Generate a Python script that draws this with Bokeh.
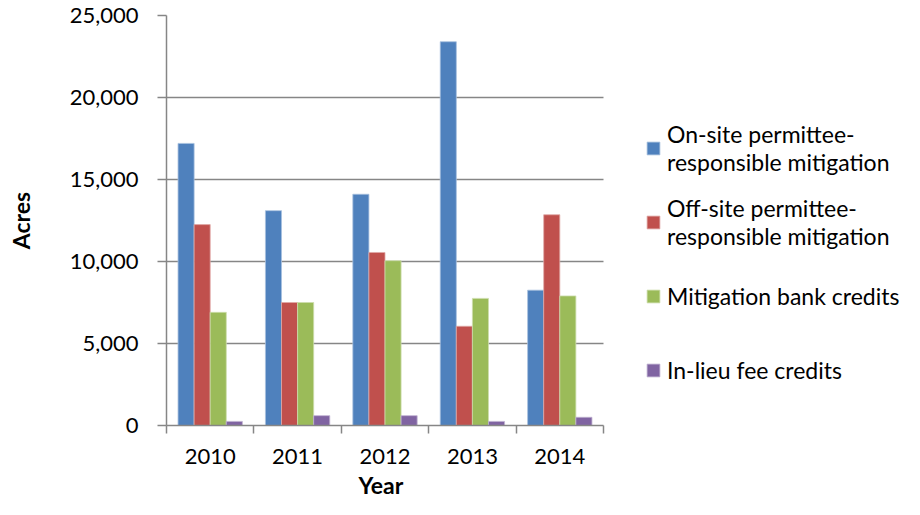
from bokeh.plotting import figure
from bokeh.models import (ColumnDataSource, FixedTicker, NumeralTickFormatter, Legend, LegendItem, Range1d, Title)
from bokeh.transform import dodge
from bokeh.embed import file_html
from bokeh.resources import INLINE

years = [2010, 2011, 2012, 2013, 2014]
year_labels = ["2010", "2011", "2012", "2013", "2014"]
onsite = [17200, 13100, 14100, 23400, 8250]
offsite = [12250, 7500, 10550, 6050, 12850]
bank = [6900, 7500, 10050, 7750, 7900]
ilf = [250, 600, 600, 250, 500]

series_names = ["On-site permittee-\nresponsible mitigation",
                "Off-site permittee-\nresponsible mitigation",
                "Mitigation bank credits",
                "In-lieu fee credits"]
colors = ["#4F81BD", "#C0504D", "#9BBB59", "#8064A2"]
edges = ["#A7C0DE", "#E0A8A6", "#CDDDAC", "#BFB1D0"]

src = ColumnDataSource(dict(year=years, onsite=onsite, offsite=offsite, bank=bank, ilf=ilf))

FONT = "Lato"
GRAY = "#868686"
FS = "22px"

# plotting area: bars occupy 437px, the rest of the frame hosts the legend
BAR_AREA = 437
FRAME_W = 738
x0 = years[0] - 0.5
x_bar_end = years[-1] + 0.5
x1 = x0 + (x_bar_end - x0) * FRAME_W / BAR_AREA

p = figure(frame_width=FRAME_W, frame_height=410, output_backend="svg", toolbar_location=None,
           x_range=Range1d(x0, x1), y_range=Range1d(0, 25000),
           min_border_left=166, min_border_right=0, min_border_top=15, min_border_bottom=0)
p.outline_line_color = None
p.background_fill_color = "white"
p.border_fill_color = "white"

w = 0.184
offsets = [-1.5 * w, -0.5 * w, 0.5 * w, 1.5 * w]
cols = ["onsite", "offsite", "bank", "ilf"]
renderers = []
for c, off, col, ec in zip(cols, offsets, colors, edges):
    r = p.vbar(x=dodge("year", off), top=c, width=w, source=src,
               fill_color=col, line_color=ec, line_width=0.8)
    renderers.append(r)

# y axis
p.yaxis.ticker = FixedTicker(ticks=[0, 5000, 10000, 15000, 20000, 25000])
p.yaxis.formatter = NumeralTickFormatter(format="0,0")
p.yaxis.axis_line_color = GRAY
p.yaxis.axis_line_width = 1.5
p.yaxis.major_tick_line_color = GRAY
p.yaxis.major_tick_line_width = 1.5
p.yaxis.major_tick_out = 9
p.yaxis.major_tick_in = 0
p.yaxis.minor_tick_line_color = None
p.yaxis.major_label_standoff = 19
p.yaxis.major_label_text_font = FONT
p.yaxis.major_label_text_font_size = FS
p.yaxis.major_label_text_color = "black"
p.yaxis.axis_label = "Acres"
p.yaxis.axis_label_text_font = FONT
p.yaxis.axis_label_text_font_size = "23px"
p.yaxis.axis_label_text_font_style = "bold"
p.yaxis.axis_label_text_color = "black"
p.yaxis.axis_label_standoff = 32

# x axis
p.xaxis.bounds = (x0, x_bar_end)
p.xaxis.ticker = FixedTicker(ticks=years, minor_ticks=[y - 0.5 for y in years] + [x_bar_end])
p.xaxis.major_label_overrides = {y: l for y, l in zip(years, year_labels)}
p.xaxis.axis_line_color = GRAY
p.xaxis.axis_line_width = 1.5
p.xaxis.major_tick_line_color = None
p.xaxis.major_tick_out = 0
p.xaxis.major_tick_in = 0
p.xaxis.minor_tick_line_color = GRAY
p.xaxis.minor_tick_line_width = 1.5
p.xaxis.minor_tick_out = 8
p.xaxis.minor_tick_in = 0
p.xaxis.major_label_standoff = 15
p.xaxis.major_label_text_font = FONT
p.xaxis.major_label_text_font_size = FS
p.xaxis.major_label_text_color = "black"

# x-axis title, centred under the bar area
year_title = Title(text="Year", align="left", offset=192, standoff=4,
                   text_font=FONT, text_font_size="23px", text_font_style="bold",
                   text_color="black")
p.add_layout(year_title, "below")

p.xgrid.grid_line_color = None
p.ygrid.ticker = FixedTicker(ticks=[5000, 10000, 15000, 20000, 25000])
p.ygrid.grid_line_color = GRAY
p.ygrid.grid_line_width = 1.5
for g in p.ygrid:
    if "cross_bounds" in g.properties():
        g.cross_bounds = (x0, x_bar_end)

legend = Legend(items=[LegendItem(label=n, renderers=[r]) for n, r in zip(series_names, renderers)],
                location=(479, 25), orientation="vertical")
legend.margin = 0
legend.padding = 0
legend.border_line_color = None
legend.background_fill_alpha = 0
legend.glyph_width = 16
legend.glyph_height = 16
legend.label_standoff = 6
legend.label_height = 60
legend.spacing = 14
legend.label_text_font = FONT
legend.label_text_font_size = "23px"
legend.label_text_color = "black"
legend.label_text_line_height = 1.4
p.add_layout(legend, "center")

open("out.html", "w").write(file_html(p, INLINE))
